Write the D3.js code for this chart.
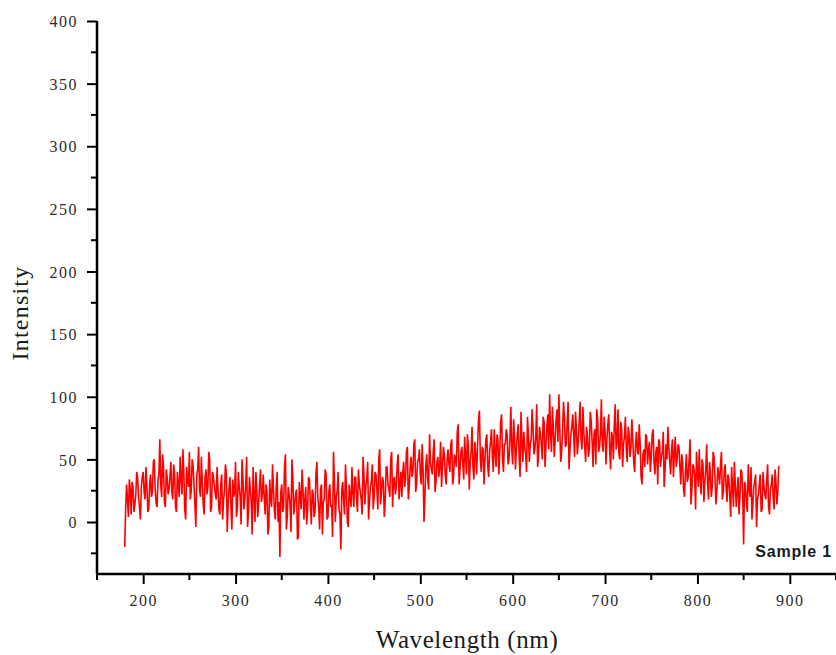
<!DOCTYPE html>
<html lang="en">

<head>
    <meta charset="UTF-8">
    <title>Spectrum</title>
    <style>
        body { margin: 0; background: #fff; }
        svg { display: block; }
    </style>
</head>

<body>
    <script src="https://d3js.org/d3.v7.min.js"></script>
    <script>
        // the spectrum is sampled every 1 nm; values kept as even and odd wavelengths
        const evenStart = 180;
        const oddStart = 181;
        const wlStep = 2;

        // intensity at even wavelengths (180, 182, ...), one block per 50 nm
        const blk180 = [-20, 30, 4, 26, 32, 8, 22, 35, 12, 28, 40, 18, 30, 10, 38, 24, 50, 15, 33, 66, 20, 44, 12, 35, 26];
        const blk230 = [48, 18, 38, 8, 30, 52, 22, 40, 2, 34, 56, 25, 45, 14, 38, 60, 20, 32, 6, 42, 28, 50, 12, 36, 22];
        const blk280 = [44, 10, 30, 2, 24, 40, 14, 36, -6, 20, 48, 12, 28, -2, 34, 18, 52, 8, 26, -10, 22, 40, 4, 30, 16];
        const blk330 = [38, 6, 24, -4, 18, 46, 10, 28, 0, -28, 30, 12, 54, 4, 22, -8, 36, 14, 26, -12, 20, 42, 2, 28, 10];
        const blk380 = [34, -2, 22, 8, 48, 12, 26, -10, 18, 38, 4, 30, 14, 56, 0, 24, 10, -22, 32, 6, 28, -4, 20, 44, 12];
        const blk430 = [36, 8, 30, 18, 52, 14, 34, 2, 28, 46, 20, 38, 10, 58, 24, 32, 16, 44, 26, 50, 12, 36, 28, 54, 30];
        const blk480 = [20, 48, 34, 60, 28, 52, 40, 66, 30, 50, 38, 62, 0, 46, 34, 70, 42, 56, 24, 48, 36, 64, 44, 54, 30];
        const blk530 = [58, 40, 66, 36, 50, 72, 30, 56, 46, 68, 38, 60, 48, 76, 34, 54, 62, 89, 40, 58, 50, 70, 36, 64, 52];
        const blk580 = [74, 44, 66, 56, 86, 40, 62, 70, 50, 92, 46, 68, 58, 78, 36, 64, 72, 54, 84, 48, 66, 76, 58, 94, 52];
        const blk630 = [70, 50, 80, 60, 86, 102, 56, 74, 66, 90, 102, 48, 72, 84, 62, 96, 58, 76, 70, 88, 54, 80, 66, 92, 60];
        const blk680 = [76, 52, 88, 64, 70, 46, 82, 60, 98, 56, 72, 66, 86, 42, 68, 78, 58, 90, 50, 74, 62, 84, 48, 70, 60];
        const blk730 = [66, 40, 72, 54, 62, 30, 58, 70, 46, 64, 52, 74, 38, 60, 66, 44, 56, 28, 62, 76, 48, 58, 36, 68, 50];
        const blk780 = [60, 30, 48, 20, 54, 36, 66, 26, 44, 10, 40, 58, 22, 46, 32, 62, 18, 40, 28, 52, 14, 44, 30, 56, 24];
        const blk830 = [46, 16, 34, 4, 28, 48, 12, 36, 20, 40, -18, 30, 8, 26, 44, 14, 32, -4, 22, 38, 10, 28, 18, 46, 6, 30, 20, 42, 14, 45];

        // intensity at odd wavelengths (181, 183, ...)
        const odd181 = [10, 18, 34, 6, 28, 14, 40, 20, 2, 36, 24, 44, 8, 30, 20, 48, 26, 12, 38, 30, 54, 16, 42, 22, 36];
        const odd231 = [24, 46, 12, 40, 20, 34, 58, 10, 44, 28, 18, 50, 30, -4, 42, 26, 52, 14, 36, 22, 56, 8, 40, 30, 18];
        const odd281 = [26, 6, 38, 18, 46, -8, 28, 12, 34, 24, 4, 40, 20, 50, 10, 30, -4, 36, 16, 44, 0, 26, 14, 42, 22];
        const odd331 = [20, 30, -10, 34, 12, 26, 2, 40, 16, 24, 8, 44, -6, 28, 14, 50, 6, 22, -14, 32, 10, 26, 18, -2, 36];
        const odd381 = [14, 26, 4, 38, 20, -6, 30, 16, 42, 2, 24, 12, -12, 34, 20, 40, 6, 26, 16, 46, 0, 30, 12, 24, 36];
        const odd431 = [18, 42, 24, 6, 38, 28, 48, 16, 32, 10, 40, 26, 50, 14, 36, 4, 44, 30, 20, 56, 34, 22, 46, 18, 40];
        const odd481 = [40, 28, 56, 18, 44, 36, 62, 24, 48, 58, 30, 42, 20, 54, 26, 48, 38, 66, 32, 52, 44, 28, 60, 38, 50];
        const odd531 = [46, 62, 30, 54, 44, 78, 42, 60, 34, 52, 70, 26, 56, 44, 64, 38, 82, 50, 60, 30, 66, 44, 56, 74, 40];
        const odd581 = [56, 70, 38, 80, 50, 62, 74, 46, 66, 58, 82, 42, 70, 52, 88, 48, 60, 40, 70, 62, 90, 54, 68, 44, 76];
        const odd631 = [62, 84, 44, 76, 58, 70, 92, 52, 82, 64, 74, 56, 96, 60, 80, 42, 70, 86, 52, 74, 64, 96, 58, 72, 48];
        const odd681 = [68, 58, 80, 44, 74, 90, 56, 70, 62, 84, 46, 78, 58, 72, 50, 94, 64, 54, 80, 44, 68, 58, 76, 52, 82];
        const odd731 = [48, 62, 56, 78, 36, 54, 44, 68, 58, 40, 70, 48, 56, 30, 64, 52, 72, 42, 50, 60, 38, 66, 54, 44, 62];
        const odd781 = [44, 54, 26, 40, 32, 50, 14, 46, 36, 56, 28, 34, 50, 16, 42, 30, 48, 20, 56, 36, 24, 38, 46, 18, 40];
        const odd831 = [28, 38, 20, 44, 12, 30, 24, 6, 42, 22, 32, 14, 46, 20, 2, 28, 38, 18, 30, 8, 40, 22, 34, 12, 26, 38, 10, 32, 24];

        const xTicks = [200, 300, 400, 500, 600, 700, 800, 900];
        const xMinor = [150, 250, 350, 450, 550, 650, 750, 850, 950];
        const yTicks = [0, 50, 100, 150, 200, 250, 300, 350, 400];
        const yMinor = [-25, 25, 75, 125, 175, 225, 275, 325, 375];
        const seriesName = "Sample 1";

        const evenVals = [].concat(blk180, blk230, blk280, blk330, blk380, blk430, blk480,
            blk530, blk580, blk630, blk680, blk730, blk780, blk830);
        const oddVals = [].concat(odd181, odd231, odd281, odd331, odd381, odd431, odd481,
            odd531, odd581, odd631, odd681, odd731, odd781, odd831);
        const data = evenVals.map((v, i) => ({ wl: evenStart + i * wlStep, v: v }))
            .concat(oddVals.map((v, i) => ({ wl: oddStart + i * wlStep, v: v })))
            .sort((a, b) => a.wl - b.wl);

        const width = 836;
        const height = 655;
        const serif = "'Liberation Serif', 'Times New Roman', serif";

        const x = d3.scaleLinear().domain([150, 950]).range([97, 836]);
        const y = d3.scaleLinear().domain([-41.5, 400]).range([574, 21]);

        const svg = d3.select("body").append("svg")
            .attr("width", width)
            .attr("height", height);

        // spectrum
        const line = d3.line()
            .x(d => x(d.wl))
            .y(d => y(d.v));

        svg.append("path")
            .datum(data)
            .attr("d", line)
            .attr("fill", "none")
            .attr("stroke", "#ff0000")
            .attr("stroke-width", 1.6)
            .attr("stroke-linejoin", "bevel");

        // x axis
        const xAxis = svg.append("g")
            .attr("transform", `translate(0, ${y.range()[0]})`)
            .call(d3.axisBottom(x).tickValues(xTicks).tickSize(10).tickPadding(8).tickFormat(d3.format("d")));
        xAxis.append("g").selectAll("line")
            .data(xMinor)
            .enter().append("line")
            .attr("x1", d => x(d)).attr("x2", d => x(d))
            .attr("y1", 0).attr("y2", 6)
            .attr("stroke", "#000").attr("stroke-width", 2);

        // y axis
        const yAxis = svg.append("g")
            .attr("transform", `translate(${x.range()[0]}, 0)`)
            .call(d3.axisLeft(y).tickValues(yTicks).tickSize(10).tickPadding(9).tickFormat(d3.format("d")));
        yAxis.append("g").selectAll("line")
            .data(yMinor)
            .enter().append("line")
            .attr("y1", d => y(d)).attr("y2", d => y(d))
            .attr("x1", 0).attr("x2", -6)
            .attr("stroke", "#000").attr("stroke-width", 2);

        [xAxis, yAxis].forEach(g => {
            g.select(".domain").attr("stroke", "#000").attr("stroke-width", 2.5)
                .attr("d", g === xAxis ? `M${x.range()[0]},0H${x.range()[1]}` : `M0,${y.range()[0]}V${y.range()[1]}`);
            g.selectAll(".tick line").attr("stroke", "#000").attr("stroke-width", 2);
            g.selectAll(".tick text")
                .attr("font-family", serif)
                .attr("font-size", 16)
                .attr("letter-spacing", 1.5)
                .attr("fill", "#2b2b2b");
        });
        yAxis.selectAll(".tick text").attr("dy", "0.35em");
        xAxis.selectAll(".tick text").attr("dy", "0.9em");

        // axis titles
        svg.append("text")
            .attr("x", 467)
            .attr("y", 648)
            .attr("text-anchor", "middle")
            .attr("font-family", serif)
            .attr("font-size", 25)
            .attr("letter-spacing", 0.6)
            .attr("fill", "#1a1a1a")
            .text("Wavelength (nm)");

        svg.append("text")
            .attr("transform", "translate(28, 313) rotate(-90)")
            .attr("text-anchor", "middle")
            .attr("font-family", serif)
            .attr("font-size", 24)
            .attr("letter-spacing", 1.2)
            .attr("fill", "#1a1a1a")
            .text("Intensity");

        // series label
        svg.append("text")
            .attr("x", 832)
            .attr("y", 557)
            .attr("text-anchor", "end")
            .attr("font-family", "'Liberation Sans', Arial, sans-serif")
            .attr("font-size", 16)
            .attr("font-weight", "bold")
            .attr("letter-spacing", 0.8)
            .attr("fill", "#1a1a1a")
            .text(seriesName);
    </script>
</body>

</html>
